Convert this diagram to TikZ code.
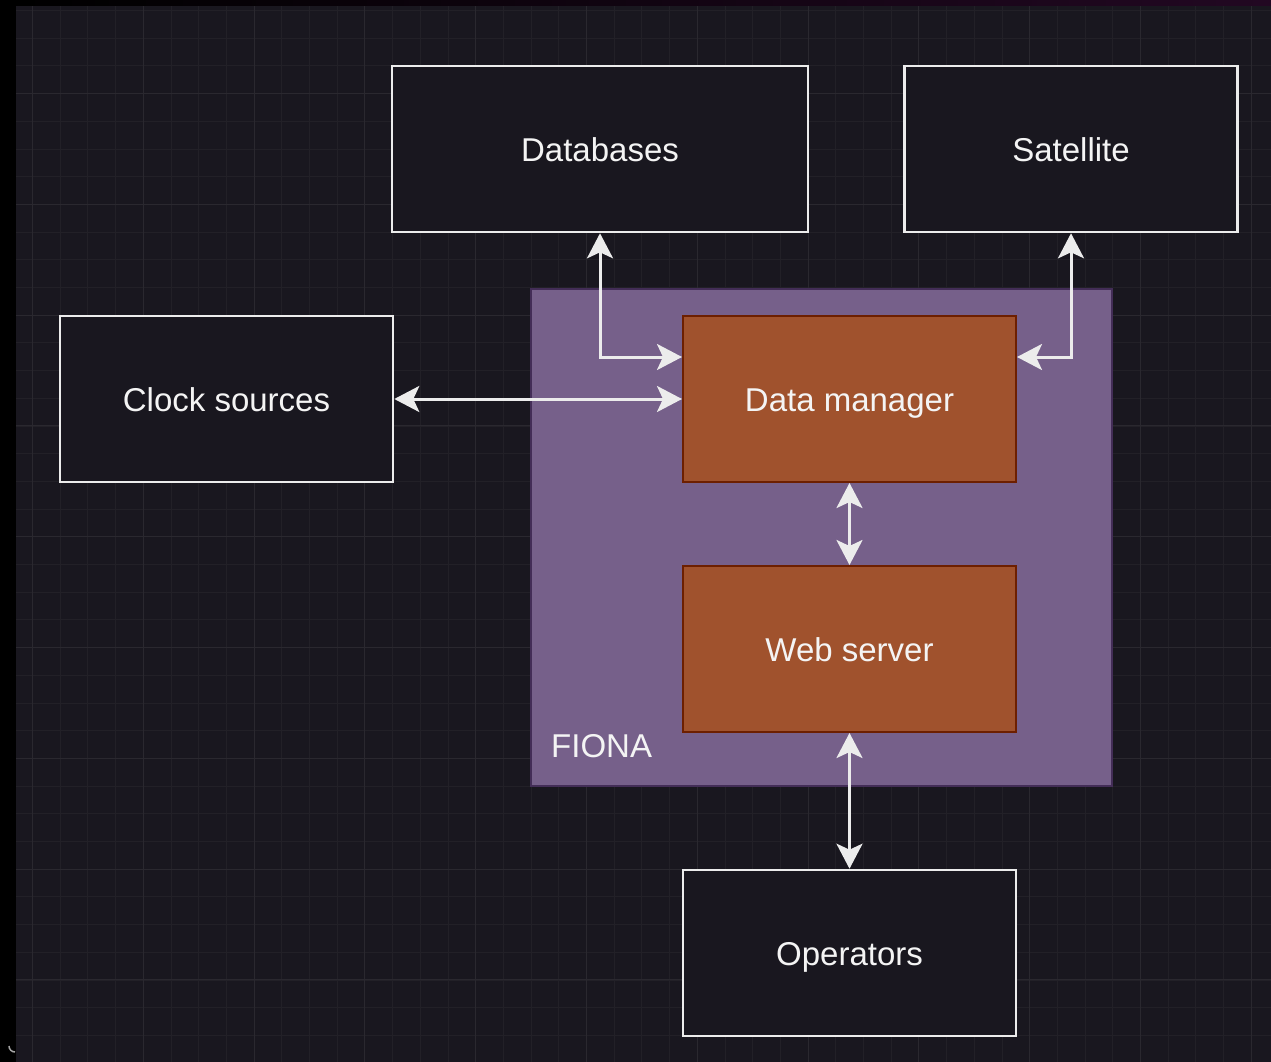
\documentclass[tikz,border=0pt]{standalone}
\usepackage{fontspec}
\setmainfont{Liberation Sans}
\usetikzlibrary{arrows.meta,calc}

\definecolor{canvas}{HTML}{19171F}
\definecolor{gridminor}{HTML}{222027}
\definecolor{gridmajor}{HTML}{2A282F}
\definecolor{edge}{HTML}{ECECEC}
\definecolor{txt}{HTML}{F4F4F4}
\definecolor{fionafill}{HTML}{76608A}
\definecolor{fionaline}{HTML}{432D57}
\definecolor{corefill}{HTML}{A0522D}
\definecolor{coreline}{HTML}{6D1F00}

\tikzset{
  lbl/.style={text=txt, font=\fontsize{33}{40}\selectfont,
    text height=25.6pt, text depth=0pt},
  extbox/.style={lbl, draw=edge, line width=2.6pt, fill=canvas,
    minimum width=333pt, minimum height=166pt, inner sep=0pt},
  corebox/.style={lbl, draw=coreline, line width=2pt, fill=corefill,
    minimum width=333pt, minimum height=166pt, inner sep=0pt},
  conn/.style={draw=edge, line width=3pt,
    {Stealth[length=25pt,width=26pt,inset=6pt]}-{Stealth[length=25pt,width=26pt,inset=6pt]}},
}

\begin{document}
\begin{tikzpicture}[x=1pt,y=-1pt]
  % page and canvas
  \fill[black] (0,0) rectangle (1271,1062);
  \useasboundingbox (0,0) rectangle (1271,1062);
  \shade[left color=black, right color={rgb,255:red,34;green,8;blue,34}]
    (16,0) rectangle (1271,6);
  \fill[canvas] (16,6) rectangle (1271,1062);

  % background grid
  \begin{scope}
    \clip (16,6) rectangle (1271,1062);
    \foreach \i in {0,...,45} {
      \pgfmathsetmacro\gx{32.5+27.7*\i}
      \draw[gridminor, line width=1pt] (\gx,6) -- (\gx,1062);
    }
    \foreach \j in {0,...,38} {
      \pgfmathsetmacro\gy{10.5+27.7*\j}
      \draw[gridminor, line width=1pt] (16,\gy) -- (1271,\gy);
    }
    \foreach \i in {0,...,11} {
      \pgfmathsetmacro\gx{32.5+110.8*\i}
      \draw[gridmajor, line width=1pt] (\gx,6) -- (\gx,1062);
    }
    \foreach \j in {0,...,9} {
      \pgfmathsetmacro\gy{93.5+110.8*\j}
      \draw[gridmajor, line width=1pt] (16,\gy) -- (1271,\gy);
    }
  \end{scope}
  \draw[gray!70, line width=1.5pt] (15,1052) arc[start angle=90, end angle=180, radius=6];

  % FIONA container
  \node[draw=fionaline, line width=2pt, fill=fionafill,
        minimum width=581pt, minimum height=497pt, inner sep=0pt]
        (fiona) at (821.5,537.5) {};
  \node[lbl, anchor=west, inner sep=0pt] (fionalbl) at (551,745) {FIONA};

  % external systems
  \node[extbox, minimum width=416pt] (db)  at (600,149)   {Databases};
  \node[extbox]                      (sat) at (1071,149)  {Satellite};
  \node[extbox]                      (clk) at (226.5,399) {Clock sources};
  \node[extbox]                      (op)  at (849.5,953) {Operators};

  % FIONA components
  \node[corebox] (dm) at (849.5,399) {Data manager};
  \node[corebox] (ws) at (849.5,649) {Web server};

  % connectors
  \coordinate (dmw) at ($(dm.north west)!0.25!(dm.south west)$);
  \coordinate (dme) at ($(dm.north east)!0.25!(dm.south east)$);
  \draw[conn] (db.south) |- (dmw);
  \draw[conn] (sat.south) |- (dme);
  \draw[conn] (clk.east) -- (dm.west);
  \draw[conn] (dm.south) -- (ws.north);
  \draw[conn] (ws.south) -- (op.north);
\end{tikzpicture}
\end{document}
